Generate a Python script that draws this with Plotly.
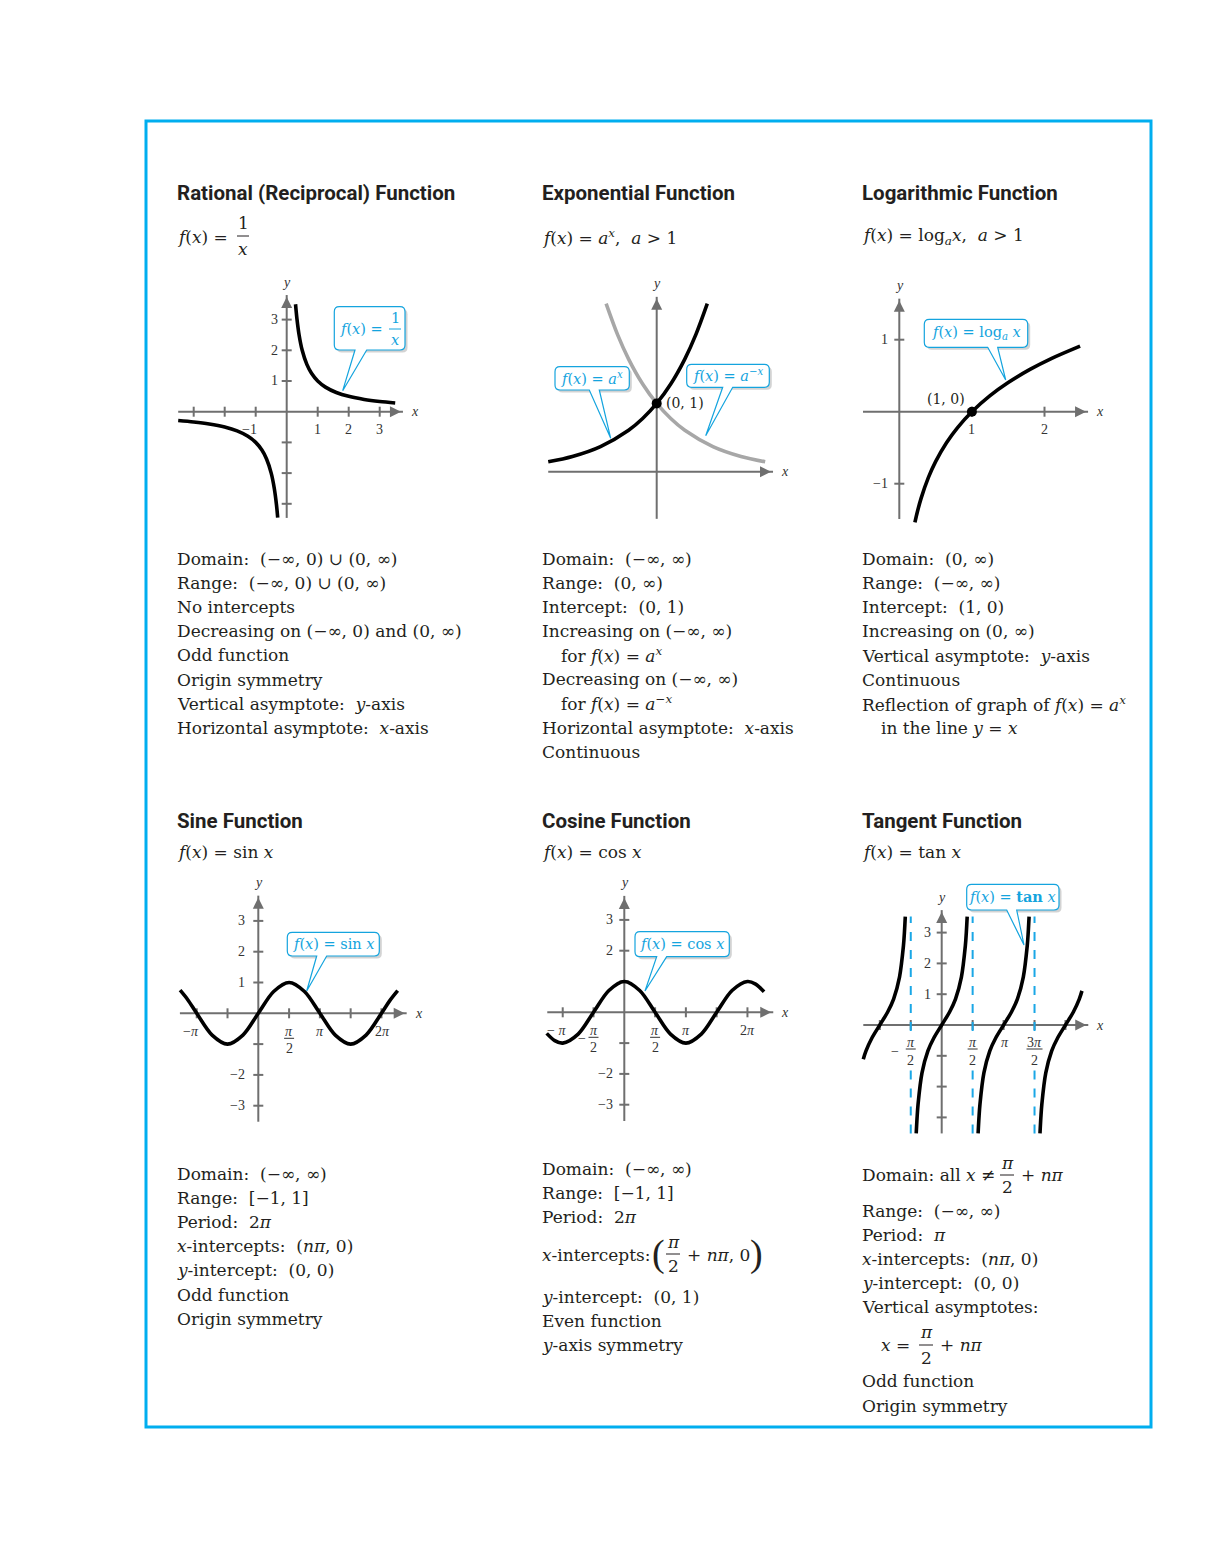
import math
import plotly.graph_objects as go

W, H = 1224, 1566
PI = math.pi

# ---------------- curve data ----------------
recip_pos_x = [0.285, 0.33, 0.4, 0.5, 0.65, 0.8, 1.0, 1.25, 1.6, 2.0, 2.5, 3.0, 3.5]
recip_pos_y = [3.5, 3.03, 2.5, 2.0, 1.54, 1.25, 1.0, 0.8, 0.625, 0.5, 0.4, 0.333, 0.286]
recip_neg_x = [-3.5, -3.0, -2.5, -2.0, -1.6, -1.25, -1.0, -0.8, -0.65, -0.5, -0.4, -0.33, -0.29]
recip_neg_y = [-0.286, -0.333, -0.4, -0.5, -0.625, -0.8, -1.0, -1.25, -1.54, -2.0, -2.5, -3.03, -3.45]

exp_x = [-1.93, -1.5, -1.0, -0.5, -0.25, 0.0, 0.25, 0.5, 0.7, 0.9]
exp_y = [0.145, 0.223, 0.368, 0.607, 0.779, 1.0, 1.284, 1.649, 2.014, 2.46]
expneg_x = [-0.9, -0.7, -0.5, -0.25, 0.0, 0.25, 0.5, 1.0, 1.5, 1.93]
expneg_y = [2.46, 2.014, 1.649, 1.284, 1.0, 0.779, 0.607, 0.368, 0.223, 0.145]
exp_point = (0.0, 1.0)

log_x = [0.215, 0.25, 0.3, 0.4, 0.5, 0.65, 0.8, 1.0, 1.25, 1.5, 1.8, 2.1, 2.49]
log_y = [-1.537, -1.386, -1.204, -0.916, -0.693, -0.431, -0.223, 0.0, 0.223, 0.405, 0.588, 0.742, 0.912]
log_point = (1.0, 0.0)

sin_x = [-3.99, -3.6, -3.142, -2.356, -1.571, -0.785, 0.0, 0.785, 1.571, 2.356, 3.142, 3.927, 4.712, 5.498, 6.283, 6.7, 7.11]
sin_y = [0.75, 0.442, 0.0, -0.707, -1.0, -0.707, 0.0, 0.707, 1.0, 0.707, 0.0, -0.707, -1.0, -0.707, 0.0, 0.405, 0.736]

cos_x = [-3.96, -3.55, -3.142, -2.356, -1.571, -0.785, 0.0, 0.785, 1.571, 2.356, 3.142, 3.927, 4.712, 5.498, 6.283, 6.7, 7.13]
cos_y = [-0.684, -0.918, -1.0, -0.707, 0.0, 0.707, 1.0, 0.707, 0.0, -0.707, -1.0, -0.707, 0.0, 0.707, 1.0, 0.914, 0.664]

tan1_x = [-3.98, -3.842, -3.542, -3.142, -2.742, -2.442, -2.142, -1.942, -1.892, -1.848]
tan1_y = [-1.11, -0.842, -0.423, 0.0, 0.423, 0.842, 1.557, 2.572, 3.01, 3.52]
tan2_x = [-1.294, -1.25, -1.2, -1.0, -0.7, -0.4, 0.0, 0.4, 0.7, 1.0, 1.2, 1.25, 1.294]
tan2_y = [-3.52, -3.01, -2.572, -1.557, -0.842, -0.423, 0.0, 0.423, 0.842, 1.557, 2.572, 3.01, 3.52]
tan3_x = [1.848, 1.892, 1.942, 2.142, 2.442, 2.742, 3.142, 3.542, 3.842, 4.142, 4.342, 4.392, 4.436]
tan3_y = [-3.52, -3.01, -2.572, -1.557, -0.842, -0.423, 0.0, 0.423, 0.842, 1.557, 2.572, 3.01, 3.52]
tan4_x = [4.989, 5.033, 5.083, 5.283, 5.583, 5.883, 6.283, 6.683, 6.983, 7.12]
tan4_y = [-3.52, -3.01, -2.572, -1.557, -0.842, -0.423, 0.0, 0.423, 0.842, 1.108]
tan_asymptotes = [-PI / 2, PI / 2, 3 * PI / 2]
tan_asym_span = (-3.52, 3.52)

# ---------------- tick values and labels ----------------
recip_xticks = [-3, -2, -1, 1, 2, 3]
recip_yticks = [-3, -2, -1, 1, 2, 3]
recip_xlabels = {-1: "−1", 1: "1", 2: "2", 3: "3"}
recip_ylabels = {1: "1", 2: "2", 3: "3"}

log_xticks = [1, 2]
log_yticks = [-1, 1]
log_xlabels = {1: "1", 2: "2"}
log_ylabels = {-1: "−1", 1: "1"}

trig_xticks = [-PI, -PI / 2, PI / 2, PI, 3 * PI / 2, 2 * PI]
trig_yticks = [-3, -2, -1, 1, 2, 3]
sin_ylabels = {-3: "−3", -2: "−2", 1: "1", 2: "2", 3: "3"}
cos_ylabels = {-3: "−3", -2: "−2", 2: "2", 3: "3"}
tan_ylabels = {1: "1", 2: "2", 3: "3"}

# ---------------- texts ----------------
titles = ["Rational (Reciprocal) Function", "Exponential Function", "Logarithmic Function",
          "Sine Function", "Cosine Function", "Tangent Function"]
NB = "\u00a0"
recip_lines = ["Domain:" + NB + " (−∞, 0) ∪ (0, ∞)", "Range:" + NB + " (−∞, 0) ∪ (0, ∞)", "No intercepts",
               "Decreasing on (−∞, 0) and (0, ∞)", "Odd function", "Origin symmetry",
               "Vertical asymptote:" + NB + " <i>y</i>-axis", "Horizontal asymptote:" + NB + " <i>x</i>-axis"]
exp_lines = ["Domain:" + NB + " (−∞, ∞)", "Range:" + NB + " (0, ∞)", "Intercept:" + NB + " (0, 1)",
             "Increasing on (−∞, ∞)", "for <i>f</i>(<i>x</i>) = <i>a</i><sup><i>x</i></sup>",
             "Decreasing on (−∞, ∞)", "for <i>f</i>(<i>x</i>) = <i>a</i><sup>−<i>x</i></sup>",
             "Horizontal asymptote:" + NB + " <i>x</i>-axis", "Continuous"]
log_lines = ["Domain:" + NB + " (0, ∞)", "Range:" + NB + " (−∞, ∞)", "Intercept:" + NB + " (1, 0)",
             "Increasing on (0, ∞)", "Vertical asymptote:" + NB + " <i>y</i>-axis", "Continuous",
             "Reflection of graph of <i>f</i>(<i>x</i>) = <i>a</i><sup><i>x</i></sup>",
             "in the line <i>y</i> = <i>x</i>"]
sin_lines = ["Domain:" + NB + " (−∞, ∞)", "Range:" + NB + " [−1, 1]", "Period:" + NB + " 2<i>π</i>",
             "<i>x</i>-intercepts:" + NB + " (<i>nπ</i>, 0)", "<i>y</i>-intercept:" + NB + " (0, 0)",
             "Odd function", "Origin symmetry"]
cos_lines = ["Domain:" + NB + " (−∞, ∞)", "Range:" + NB + " [−1, 1]", "Period:" + NB + " 2<i>π</i>",
             "<i>x</i>-intercepts:", "<i>y</i>-intercept:" + NB + " (0, 1)", "Even function",
             "<i>y</i>-axis symmetry"]
tan_lines = ["Domain: all <i>x</i> ≠", "Range:" + NB + " (−∞, ∞)", "Period:" + NB + " <i>π</i>",
             "<i>x</i>-intercepts:" + NB + " (<i>nπ</i>, 0)", "<i>y</i>-intercept:" + NB + " (0, 0)",
             "Vertical asymptotes:", "<i>x</i> =", "Odd function", "Origin symmetry"]

# ---------------- style ----------------
SERIF = "DejaVu Serif, Liberation Serif, serif"
TICKF = "Liberation Serif, Times New Roman, serif"
SANSB = "Roboto, DejaVu Sans, sans-serif"
BODY = 17
INK = "#231f20"
AXC = "#6f6f6f"
CYAN = "#14a4de"
FRAME = "#00aeef"

# subplot geometry in pixels: origin, units, box
G = [
    dict(ox=286.7, oy=411.7, ux=31.0, uy=30.7, L=170, R=425, T=275, B=530, xa=(-3.5, 3.75), ya=(-3.46, 3.8)),
    dict(ox=656.7, oy=471.7, ux=56.2, uy=68.3, L=540, R=795, T=275, B=530, xa=(-1.93, 2.07), ya=(-0.69, 2.56)),
    dict(ox=899.3, oy=411.7, ux=72.6, uy=72.0, L=855, R=1110, T=275, B=530, xa=(-0.5, 2.6), ya=(-1.49, 1.57)),
    dict(ox=258.3, oy=1013.3, ux=19.6, uy=30.8, L=170, R=425, T=880, B=1135, xa=(-4.0, 7.57), ya=(-3.52, 3.82)),
    dict(ox=624.3, oy=1012.3, ux=19.6, uy=30.8, L=540, R=795, T=880, B=1135, xa=(-3.93, 7.6), ya=(-3.53, 3.78)),
    dict(ox=941.7, oy=1025.0, ux=19.7, uy=30.8, L=855, R=1110, T=880, B=1140, xa=(-3.98, 7.44), ya=(-3.52, 3.73)),
]

fig = go.Figure()
shapes = []
anns = []


def refs(i):
    return ("x" if i == 0 else f"x{i+1}"), ("y" if i == 0 else f"y{i+1}")


def text(txt, x, y, size=BODY, color=INK, family=SERIF, xanchor="left", yanchor="middle"):
    if xanchor == "left":
        x -= 2
    anns.append(dict(text=txt, x=x / W, y=1 - y / H, xref="paper", yref="paper", showarrow=False,
                     font=dict(size=size, color=color, family=family), xanchor=xanchor, yanchor=yanchor))


def hline_px(x0, x1, y, color=INK, width=1):
    shapes.append(dict(type="line", xref="paper", yref="paper", x0=x0 / W, x1=x1 / W,
                       y0=1 - y / H, y1=1 - y / H, line=dict(color=color, width=width)))


def frac_px(xc, ybar, num, den, size=BODY, half=7, color=INK, gap=12):
    text(num, xc, ybar - gap, size=size, color=color, xanchor="center")
    text(den, xc, ybar + gap, size=size, color=color, xanchor="center")
    hline_px(xc - half, xc + half, ybar, color=color)


def dtext(i, txt, x, y, xs=0, ys=0, size=14, xanchor="center", color="#333", family=TICKF):
    xr, yr = refs(i)
    anns.append(dict(text=txt, x=x, y=y, xref=xr, yref=yr, showarrow=False, xshift=xs, yshift=ys,
                     font=dict(size=size, color=color, family=family), xanchor=xanchor, yanchor="middle"))


def draw_axes(i, xt, yt):
    g = G[i]
    xr, yr = refs(i)
    x0, x1 = g["xa"]
    y0, y1 = g["ya"]
    shapes.append(dict(type="line", xref=xr, yref=yr, x0=x0, x1=x1, y0=0, y1=0,
                       line=dict(color=AXC, width=2), layer="below"))
    shapes.append(dict(type="line", xref=xr, yref=yr, x0=0, x1=0, y0=y0, y1=y1,
                       line=dict(color=AXC, width=2), layer="below"))
    fig.add_trace(go.Scatter(x=[x1 - 2 / g["ux"]], y=[0], xaxis=xr, yaxis=yr, mode="markers",
                             hoverinfo="skip", showlegend=False,
                             marker=dict(symbol="arrow-right", size=11, color=AXC, line=dict(width=0))))
    fig.add_trace(go.Scatter(x=[0], y=[y1 - 2 / g["uy"]], xaxis=xr, yaxis=yr, mode="markers",
                             hoverinfo="skip", showlegend=False,
                             marker=dict(symbol="arrow-up", size=11, color=AXC, line=dict(width=0))))
    dtext(i, "<i>x</i>", x1, 0, xs=12)
    dtext(i, "<i>y</i>", 0, y1, ys=13)
    for v in xt:
        shapes.append(dict(type="line", xref=xr, yref=yr, x0=v, x1=v, ysizemode="pixel", yanchor=0,
                           y0=-5, y1=5, line=dict(color=AXC, width=2), layer="below"))
    for v in yt:
        shapes.append(dict(type="line", xref=xr, yref=yr, y0=v, y1=v, xsizemode="pixel", xanchor=0,
                           x0=-5, x1=5, line=dict(color=AXC, width=2), layer="below"))


def tick_frac(i, v, num, den, yn, yb, yd, half=5, minus=None):
    xr, yr = refs(i)
    dtext(i, num, v, 0, ys=yn)
    dtext(i, den, v, 0, ys=yd)
    shapes.append(dict(type="line", xref=xr, yref=yr, xsizemode="pixel", xanchor=v, x0=-half, x1=half,
                       ysizemode="pixel", yanchor=0, y0=yb, y1=yb, line=dict(color="#333", width=1)))
    if minus is not None:
        dtext(i, "−", v, 0, xs=minus[0], ys=minus[1])


def curve(i, xs, ys, color="black", width=3.6):
    xr, yr = refs(i)
    fig.add_trace(go.Scatter(x=xs, y=ys, xaxis=xr, yaxis=yr, mode="lines", hoverinfo="skip",
                             showlegend=False,
                             line=dict(color=color, width=width, shape="spline", smoothing=0.9)))


def dot(i, pt):
    xr, yr = refs(i)
    fig.add_trace(go.Scatter(x=[pt[0]], y=[pt[1]], xaxis=xr, yaxis=yr, mode="markers", hoverinfo="skip",
                             showlegend=False, marker=dict(color="black", size=10)))


def callout(box, b, tip, r=5):
    x0, y0, x1, y1 = box

    def P(dx, dy, tail):
        X = lambda v: (v + dx) / W
        Y = lambda v: 1 - (v + dy) / H
        s = f"M{X(x0+r)},{Y(y0)} L{X(x1-r)},{Y(y0)} Q{X(x1)},{Y(y0)} {X(x1)},{Y(y0+r)} "
        s += f"L{X(x1)},{Y(y1-r)} Q{X(x1)},{Y(y1)} {X(x1-r)},{Y(y1)} "
        if tail:
            s += f"L{X(b[1])},{Y(y1)} L{X(tip[0])},{Y(tip[1])} L{X(b[0])},{Y(y1)} "
        s += f"L{X(x0+r)},{Y(y1)} Q{X(x0)},{Y(y1)} {X(x0)},{Y(y1-r)} L{X(x0)},{Y(y0+r)} "
        s += f"Q{X(x0)},{Y(y0)} {X(x0+r)},{Y(y0)} Z"
        return s

    shapes.append(dict(type="path", xref="paper", yref="paper", path=P(2.5, 2.5, False),
                       fillcolor="#d3d3d3", line=dict(width=0)))
    shapes.append(dict(type="path", xref="paper", yref="paper", path=P(0, 0, True),
                       fillcolor="white", line=dict(color=CYAN, width=1.2)))


# ---------------- graphs ----------------
# 1 rational
draw_axes(0, recip_xticks, recip_yticks)
curve(0, recip_pos_x, recip_pos_y)
curve(0, recip_neg_x, recip_neg_y)
for v, t in recip_xlabels.items():
    dtext(0, t, v, 0, xs=(-6 if v < 0 else 0), ys=-18)
for v, t in recip_ylabels.items():
    dtext(0, t, 0, v, xs=-7, xanchor="right")

# 2 exponential
draw_axes(1, [], [])
curve(1, expneg_x, expneg_y, color="#a7a7a7")
curve(1, exp_x, exp_y)
dot(1, exp_point)
dtext(1, "(0, 1)", exp_point[0], exp_point[1], xs=7, xanchor="left", size=14, color=INK, family=SERIF)

# 3 logarithmic
draw_axes(2, log_xticks, log_yticks)
curve(2, log_x, log_y)
dot(2, log_point)
dtext(2, "(1, 0)", log_point[0], log_point[1], xs=-5, ys=13, xanchor="right", size=14, color=INK, family=SERIF)
for v, t in log_xlabels.items():
    dtext(2, t, v, 0, ys=-18)
for v, t in log_ylabels.items():
    dtext(2, t, 0, v, xs=-9, xanchor="right")

# 4 sine
draw_axes(3, trig_xticks, trig_yticks)
curve(3, sin_x, sin_y)
dtext(3, "−<i>π</i>", -PI, 0, xs=-6, ys=-18)
tick_frac(3, PI / 2, "<i>π</i>", "2", -18, -25, -35)
dtext(3, "<i>π</i>", PI, 0, ys=-18)
dtext(3, "2<i>π</i>", 2 * PI, 0, xs=1, ys=-18)
for v, t in sin_ylabels.items():
    dtext(3, t, 0, v, xs=-11, xanchor="right")

# 5 cosine
draw_axes(4, trig_xticks, trig_yticks)
curve(4, cos_x, cos_y)
dtext(4, "− <i>π</i>", -PI, 0, xs=-6, ys=-18)
tick_frac(4, -PI / 2, "<i>π</i>", "2", -18, -25, -35, minus=(-12, -26))
tick_frac(4, PI / 2, "<i>π</i>", "2", -18, -25, -35)
dtext(4, "<i>π</i>", PI, 0, ys=-18)
dtext(4, "2<i>π</i>", 2 * PI, 0, ys=-18)
for v, t in cos_ylabels.items():
    dtext(4, t, 0, v, xs=-9, xanchor="right")

# 6 tangent (asymptotes broken where the tick labels sit)
draw_axes(5, trig_xticks, trig_yticks)
xr6, yr6 = refs(5)
g6 = G[5]
for a in tan_asymptotes:
    for ya, yb in [(tan_asym_span[0], -42 / g6["uy"]), (-6 / g6["uy"], tan_asym_span[1])]:
        shapes.append(dict(type="line", xref=xr6, yref=yr6, x0=a, x1=a, y0=ya, y1=yb,
                           line=dict(color="#1aa7e6", width=2, dash="dash")))
for tx, ty in [(tan1_x, tan1_y), (tan2_x, tan2_y), (tan3_x, tan3_y), (tan4_x, tan4_y)]:
    curve(5, tx, ty)
tick_frac(5, -PI / 2, "<i>π</i>", "2", -17, -24, -35, minus=(-16, -26))
tick_frac(5, PI / 2, "<i>π</i>", "2", -17, -24, -35)
dtext(5, "<i>π</i>", PI, 0, xs=1, ys=-17)
tick_frac(5, 3 * PI / 2, "3<i>π</i>", "2", -17, -24, -35, half=8)
for v, t in tan_ylabels.items():
    dtext(5, t, 0, v, xs=-9, xanchor="right")

# ---------------- callouts ----------------
CS = 14.5
callout((334.3, 306.7, 405, 350), (355, 366.7), (342.7, 390.7))
text("<i>f</i>(<i>x</i>) =", 385, 329, size=CS, color=CYAN, xanchor="right")
frac_px(395, 329, "1", "<i>x</i>", size=CS, half=6, color=CYAN, gap=11)

callout((555, 366.7, 629.3, 390), (589.3, 599.3), (610.7, 438.3))
text("<i>f</i>(<i>x</i>) = <i>a</i><sup><i>x</i></sup>", 592, 377.5, size=CS, color=CYAN, xanchor="center")
callout((686.7, 364.3, 769.3, 387.3), (722.7, 732.7), (705.7, 435.7))
text("<i>f</i>(<i>x</i>) = <i>a</i><sup>−<i>x</i></sup>", 728, 375, size=CS, color=CYAN, xanchor="center")

callout((924.3, 319.3, 1027.7, 347.3), (987.7, 997.7), (1005.7, 380))
text("<i>f</i>(<i>x</i>) = log<sub><i>a</i></sub> <i>x</i>", 976, 333, size=CS, color=CYAN, xanchor="center")

callout((287.3, 932.3, 379.3, 956), (316.7, 326.7), (306.7, 991))
text("<i>f</i>(<i>x</i>) = sin <i>x</i>", 333, 944, size=CS, color=CYAN, xanchor="center")

callout((635, 931.7, 729.3, 956.7), (656.7, 666.7), (645, 991))
text("<i>f</i>(<i>x</i>) = cos <i>x</i>", 682, 944, size=CS, color=CYAN, xanchor="center")

callout((966.7, 884.3, 1059, 910), (1006.7, 1016.7), (1024, 945))
text("<i>f</i>(<i>x</i>) = <b>tan</b> <i>x</i>", 1013, 897, size=CS, color=CYAN, xanchor="center")

# ---------------- headings ----------------
col_x = [177, 542, 862, 177, 542, 862]
title_y = [193, 193, 193, 821, 821, 821]
for t, x, y in zip(titles, col_x, title_y):
    text("<b>" + t + "</b>", x, y, size=20.5, family=SANSB)

text("<i>f</i>(<i>x</i>)" + NB + "=", 177, 237)
frac_px(243, 236, "1", "<i>x</i>", half=6, gap=13)
text("<i>f</i>(<i>x</i>)" + NB + "=" + NB + "<i>a</i><sup><i>x</i></sup>," + NB + NB + "<i>a</i>" + NB + ">" + NB + "1", 542, 237)
text("<i>f</i>(<i>x</i>)" + NB + "=" + NB + "log<sub><i>a</i></sub><i>x</i>," + NB + NB + "<i>a</i>" + NB + ">" + NB + "1", 862, 237)
text("<i>f</i>(<i>x</i>)" + NB + "=" + NB + "sin <i>x</i>", 177, 852)
text("<i>f</i>(<i>x</i>)" + NB + "=" + NB + "cos <i>x</i>", 542, 852)
text("<i>f</i>(<i>x</i>)" + NB + "=" + NB + "tan <i>x</i>", 862, 852)

# ---------------- property lists ----------------
for k, t in enumerate(recip_lines):
    text(t, 177, 559 + 24.1 * k)

exp_y_pos = [559, 583, 607, 631, 655, 679, 703, 728, 752]
for k, t in enumerate(exp_lines):
    text(t, 561 if t.startswith("for") else 542, exp_y_pos[k])

log_y_pos = [559, 583, 607, 631, 656, 680, 704, 728]
for k, t in enumerate(log_lines):
    text(t, 881 if t.startswith("in the") else 862, log_y_pos[k])

for k, t in enumerate(sin_lines):
    text(t, 177, 1174 + 24.1 * k)

cos_y_pos = [1169, 1193, 1217, 1255, 1297, 1321, 1345]
for k, t in enumerate(cos_lines):
    text(t, 542, cos_y_pos[k])
text("(", 658, 1253, size=38, xanchor="center", family=TICKF)
frac_px(673, 1254, "<i>π</i>", "2", half=7, gap=12)
text("+" + NB + "<i>nπ</i>, 0", 687, 1255)
text(")", 756, 1253, size=38, xanchor="center", family=TICKF)

tan_y_pos = [1175, 1211, 1235, 1259, 1283, 1307, 1345, 1381, 1406]
for k, t in enumerate(tan_lines):
    text(t, 881 if t.startswith("<i>x</i> =") else 862, tan_y_pos[k])
frac_px(1007, 1175, "<i>π</i>", "2", half=7, gap=12)
text("+" + NB + "<i>nπ</i>", 1021, 1175)
frac_px(926, 1345, "<i>π</i>", "2", half=7, gap=13)
text("+" + NB + "<i>nπ</i>", 940, 1345)

# ---------------- frame ----------------
shapes.append(dict(type="rect", xref="paper", yref="paper", x0=146 / W, x1=1151 / W,
                   y0=1 - 1427 / H, y1=1 - 121 / H, line=dict(color=FRAME, width=3)))

layout = dict(width=W, height=H, margin=dict(l=0, r=0, t=0, b=0), paper_bgcolor="white",
              plot_bgcolor="rgba(0,0,0,0)", showlegend=False, shapes=shapes, annotations=anns)
for i, g in enumerate(G):
    xk = "xaxis" if i == 0 else f"xaxis{i+1}"
    yk = "yaxis" if i == 0 else f"yaxis{i+1}"
    layout[xk] = dict(domain=[g["L"] / W, g["R"] / W],
                      range=[(g["L"] - g["ox"]) / g["ux"], (g["R"] - g["ox"]) / g["ux"]],
                      visible=False, fixedrange=True)
    layout[yk] = dict(domain=[1 - g["B"] / H, 1 - g["T"] / H],
                      range=[(g["oy"] - g["B"]) / g["uy"], (g["oy"] - g["T"]) / g["uy"]],
                      visible=False, fixedrange=True, anchor=("x" if i == 0 else f"x{i+1}"))
fig.update_layout(**layout)

fig.write_html("out.html", config=dict(displayModeBar=False),
               post_script="document.body.style.margin='0px';document.body.style.overflow='hidden';")
